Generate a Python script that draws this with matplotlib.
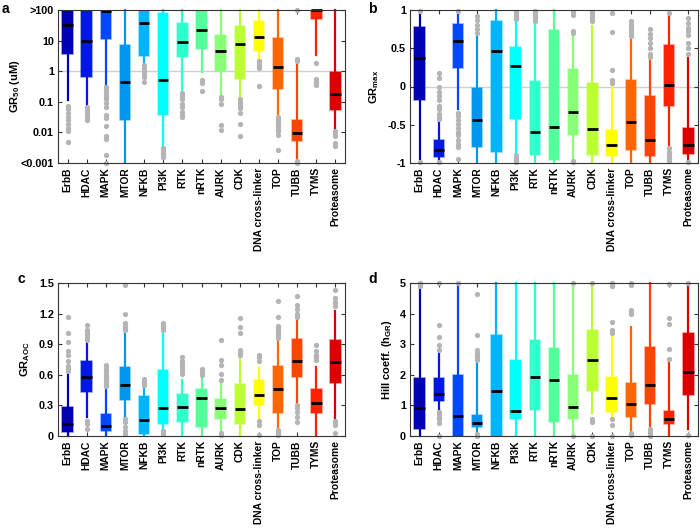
import numpy as np
import matplotlib
matplotlib.use("Agg")
import matplotlib.pyplot as plt

plt.rcParams['font.family'] = ['Liberation Sans', 'DejaVu Sans']
plt.rcParams['font.weight'] = 'bold'
plt.rcParams['mathtext.fontset'] = 'custom'
plt.rcParams['mathtext.rm'] = 'Liberation Sans:bold'
plt.rcParams['mathtext.it'] = 'Liberation Sans:bold'
plt.rcParams['mathtext.bf'] = 'Liberation Sans:bold'

categories = ['ErbB', 'HDAC', 'MAPK', 'MTOR', 'NFKB', 'PI3K', 'RTK', 'nRTK', 'AURK',
              'CDK', 'DNA cross-linker', 'TOP', 'TUBB', 'TYMS', 'Proteasome']
colors = ['#0000b4', '#0018e0', '#0048ff', '#0096f0', '#00b4ff', '#00ffff', '#33ffcc',
          '#55ff99', '#88ff77', '#bbff33', '#ffff00', '#ff6600', '#ff4400', '#ff2200', '#dd0000']

# GR50 (log scale, clipped to 0.001..100)
gr50_q1 = [3.7, 0.64, 11, 0.025, 3.2, 0.038, 3.0, 5.4, 1.05, 0.55, 4.7, 0.26, 0.0051, 51, 0.052]
gr50_med = [32, 10, 95, 0.43, 39, 0.5, 9.3, 22, 4.7, 7.8, 13.5, 1.35, 0.0095, 97, 0.18]
gr50_q3 = [100, 100, 100, 7.2, 100, 78, 39, 100, 15, 29, 45, 12, 0.025, 100, 0.97]
gr50_lo = [0.117, 0.074, 0.33, 0.001, 1.8, 0.0035, 0.23, 0.97, 0.16, 0.13, 2.3, 0.041, 0.00135, 3.4, 0.012]
gr50_hi = [100, 100, 100, 100, 100, 100, 100, 100, 100, 100, 100, 100, 1.6, 100, 100]
gr50_fliers = [
    [0.074, 0.058, 0.043, 0.033, 0.025, 0.019, 0.014, 0.011, 0.0047],
    [0.067, 0.055, 0.045, 0.038, 0.03, 0.025],
    [0.30, 0.25, 0.2, 0.16, 0.12, 0.09, 0.07, 0.038, 0.03, 0.016, 0.0078, 0.006, 0.0018, 0.001],
    [],
    [1.6, 1.25, 1.05, 0.8, 0.63, 0.46],
    [0.0031, 0.0026, 0.0022, 0.0019, 0.0016],
    [0.2, 0.17, 0.14, 0.12, 0.085, 0.067, 0.048, 0.038, 0.032],
    [0.52, 0.4, 0.23],
    [0.14, 0.12, 0.085, 0.017, 0.012],
    [0.12, 0.1, 0.085, 0.074, 0.062, 0.043, 0.019, 0.0078],
    [2.1, 1.75, 1.5, 1.25, 0.33],
    [0.033, 0.027, 0.023, 0.019, 0.016, 0.013, 0.011, 0.0083, 0.0027],
    [100, 2.6, 2.2, 0.0012, 0.0011, 0.001],
    [1.9, 0.55, 0.46, 0.35],
    [0.011, 0.009, 0.0078, 0.0045, 0.0037],
]

# GRmax
grmax_q1 = [-0.17, -0.92, 0.24, -0.79, -0.86, -0.43, -0.9, -0.96, -0.64, -0.9, -0.91, -0.83, -0.91, -0.26, -0.88]
grmax_med = [0.37, -0.83, 0.6, -0.44, 0.46, 0.27, -0.59, -0.53, -0.33, -0.56, -0.77, -0.47, -0.7, 0.02, -0.77]
grmax_q3 = [0.78, -0.70, 0.82, -0.02, 0.86, 0.52, 0.07, 0.74, 0.23, 0.05, -0.57, 0.08, -0.12, 0.54, -0.54]
grmax_lo = [-0.95, -0.99, -0.3, -0.99, -0.99, -0.88, -0.99, -1.0, -0.95, -0.99, -0.99, -0.99, -0.99, -0.77, -0.97]
grmax_hi = [0.965, -0.44, 0.97, 0.66, 1.0, 0.85, 0.83, 1.0, 0.67, 0.79, -0.01, 0.64, 0.35, 0.92, 0.37]
grmax_fliers = [
    [0.99, -0.99],
    [0.18, 0.11, -0.01, -0.07, -0.13, -0.17, -0.25, -0.3, -0.36, -0.4, -0.43, -0.99],
    [0.99, -0.34, -0.39, -0.44, -0.49, -0.54, -0.59, -0.64, -0.7, -0.75, -0.79, -0.95],
    [0.92, 0.87, 0.8, 0.75, 0.7],
    [],
    [0.97, 0.93, 0.9, 0.88, -0.9, -0.93, -0.96, -0.99],
    [0.99, 0.96, 0.92, 0.89, 0.86],
    [],
    [0.97, 0.93, 0.72, 0.7, -0.97, -0.99],
    [0.98, 0.95, 0.91, 0.88, 0.85],
    [0.96, 0.71, 0.21, 0.09, 0.05],
    [0.85, 0.82, 0.78, 0.75, 0.72, 0.69, 0.66],
    [0.75, 0.69, 0.63, 0.57, 0.5, 0.43, 0.38],
    [0.96, -0.8, -0.85, -0.89, -0.92, -0.95, -0.98],
    [0.89, 0.83, 0.76, 0.72, 0.67, 0.57, 0.5, 0.43, -0.99],
]

# GRAOC
graoc_q1 = [0.04, 0.43, 0.05, 0.35, 0.02, 0.12, 0.14, 0.09, 0.165, 0.12, 0.3, 0.23, 0.58, 0.225, 0.52]
graoc_med = [0.115, 0.58, 0.1, 0.5, 0.155, 0.275, 0.285, 0.37, 0.275, 0.26, 0.4, 0.46, 0.735, 0.32, 0.725]
graoc_q3 = [0.28, 0.735, 0.22, 0.68, 0.39, 0.65, 0.415, 0.46, 0.36, 0.51, 0.545, 0.69, 0.955, 0.46, 0.94]
graoc_lo = [0.0, 0.19, 0.0, 0.19, 0.0, 0.0, 0.0, 0.0, 0.05, 0.0, 0.17, 0.09, 0.32, 0.0, 0.17]
graoc_hi = [0.61, 0.92, 0.46, 1.0, 0.48, 1.01, 0.55, 0.58, 0.52, 0.775, 0.67, 0.93, 1.14, 0.68, 1.23]
graoc_fliers = [
    [1.17, 1.01, 0.92, 0.83, 0.79, 0.74, 0.69, 0.67, 0.64],
    [1.09, 1.04, 1.02, 1.0, 0.97, 0.94, 0.15, 0.115, 0.07],
    [0.70, 0.68, 0.65, 0.63, 0.6, 0.58, 0.56, 0.54, 0.51, 0.49],
    [1.48, 1.2, 1.11, 1.08, 1.06, 1.04, 0.17, 0.14, 0.09, 0.05, 0.02],
    [0.56, 0.54, 0.52, 0.5],
    [1.11, 1.08, 1.06, 1.04, 0.05, 0.02],
    [0.77, 0.74, 0.72, 0.69, 0.67, 0.64, 0.61],
    [0.66, 0.64, 0.62, 0.6],
    [0.94, 0.75, 0.7, 0.61, 0.55, 0.03, 0.01],
    [1.16, 1.07, 1.01, 0.84, 0.81, 0.79],
    [0.79, 0.77, 0.74, 0.15, 0.11, 0.01],
    [1.32, 1.17, 1.08, 1.06, 1.04, 1.01, 0.99, 0.96, 0.06, 0.04, 0.02, 0.01],
    [1.37, 1.28, 1.25, 1.2, 1.17, 0.3, 0.27, 0.24, 0.19, 0.14],
    [0.89, 0.83, 0.79, 0.77, 0.75],
    [1.43, 1.35, 1.31, 1.3, 1.27, 0.15, 0.13, 0.11, 0.03],
]

# Hill coefficient
hill_q1 = [0.24, 1.15, 0.0, 0.3, 0.0, 0.54, 0.85, 0.47, 0.54, 1.48, 0.79, 0.61, 1.04, 0.39, 1.34]
hill_med = [0.9, 1.37, 0.65, 0.43, 1.48, 0.82, 1.93, 1.83, 0.96, 2.5, 1.25, 1.04, 1.66, 0.55, 2.08]
hill_q3 = [1.88, 1.91, 1.99, 0.68, 3.29, 2.5, 3.15, 2.89, 1.99, 3.48, 1.93, 1.72, 2.91, 0.83, 3.37]
hill_lo = [0.0, 0.85, 0.0, 0.11, 0.0, 0.0, 0.0, 0.0, 0.0, 0.74, 0.61, 0.14, 0.28, 0.0, 0.22]
hill_hi = [4.82, 2.72, 4.92, 2.39, 5.0, 5.0, 5.0, 5.0, 4.92, 4.92, 3.26, 3.57, 5.0, 2.46, 4.96]
hill_fliers = [
    [5.0, 4.96, 4.92, 4.89],
    [5.0, 3.62, 3.24, 2.97, 2.8, 0.79, 0.72, 0.63, 0.54, 0.41, 0.0],
    [5.0],
    [4.63, 3.29, 2.8, 2.72, 2.64, 2.57, 2.48, 0.07, 0.0],
    [],
    [],
    [],
    [],
    [5.0, 0.0],
    [5.0, 0.54, 0.47, 0.0],
    [5.0, 4.96, 4.89, 3.73, 3.46, 3.37, 0.54, 0.36, 0.0],
    [5.0, 4.96, 4.92, 4.13, 4.05, 4.0, 0.09, 0.03],
    [0.22, 0.14, 0.07, 0.0],
    [4.96, 3.87, 3.67, 2.84, 2.53],
    [5.0, 0.03],
]


def draw_panel(ax, q1, med, q3, lo, hi, fliers):
    stats = []
    for i in range(len(categories)):
        stats.append(dict(q1=q1[i], med=med[i], q3=q3[i], whislo=lo[i], whishi=hi[i],
                          fliers=fliers[i]))
    pos = np.arange(1, len(categories) + 1)
    bp = ax.bxp(stats, positions=pos, widths=0.55, patch_artist=True, showcaps=False,
                medianprops=dict(color='black', linewidth=2, solid_capstyle='butt'),
                whiskerprops=dict(linewidth=1.6),
                flierprops=dict(marker='o', markersize=3.8, markerfacecolor='#b4b4b4',
                                markeredgecolor='none'))
    for i, c in enumerate(colors):
        bp['boxes'][i].set_facecolor(c)
        bp['boxes'][i].set_edgecolor(matplotlib.colors.to_rgba(c, 0.45))
        bp['boxes'][i].set_linewidth(1.2)
        bp['whiskers'][2 * i].set_color(c)
        bp['whiskers'][2 * i + 1].set_color(c)
    ax.set_xlim(0.5, len(categories) + 0.5)
    ax.set_xticks(pos)
    ax.set_xticklabels(categories, rotation=90, fontweight='bold')
    ax.tick_params(direction='in', top=True, right=True, length=3, width=0.8,
                   labelsize=7.8, colors='#333333', labelcolor='black', pad=3)
    ax.tick_params(axis='x', labelsize=7.4)
    for s in ax.spines.values():
        s.set_color('#333333')
        s.set_linewidth(0.8)


fig = plt.figure(figsize=(7.0, 5.28), dpi=100)
W, H = 700.0, 528.0
ax_a = fig.add_axes([58 / W, 1 - 163 / H, 287 / W, 153 / H])
ax_b = fig.add_axes([410 / W, 1 - 163 / H, 288 / W, 153 / H])
ax_c = fig.add_axes([58 / W, 1 - 436 / H, 287 / W, 153 / H])
ax_d = fig.add_axes([410 / W, 1 - 436 / H, 288 / W, 153 / H])

# a
ax_a.set_yscale('log')
ax_a.axhline(1, color='#d0d0d0', linewidth=1, zorder=0)
draw_panel(ax_a, gr50_q1, gr50_med, gr50_q3, gr50_lo, gr50_hi, gr50_fliers)
ax_a.set_ylim(0.001, 100)
ax_a.set_yticks([0.001, 0.01, 0.1, 1, 10, 100])
ax_a.set_yticklabels(['<0.001', '0.01', '0.1', '1', '10', '>100'])
ax_a.yaxis.set_minor_locator(matplotlib.ticker.NullLocator())
ax_a.set_ylabel('GR$_{50}$ (uM)', fontsize=8, fontweight='bold')
ax_a.yaxis.set_label_coords(-0.125, 0.5)

# b
ax_b.axhline(0, color='#d0d0d0', linewidth=1, zorder=0)
draw_panel(ax_b, grmax_q1, grmax_med, grmax_q3, grmax_lo, grmax_hi, grmax_fliers)
ax_b.set_ylim(-1, 1)
ax_b.set_yticks([-1, -0.5, 0, 0.5, 1])
ax_b.set_yticklabels(['-1', '-0.5', '0', '0.5', '1'])
ax_b.set_ylabel('GR$_{\\mathrm{max}}$', fontsize=8, fontweight='bold')
ax_b.yaxis.set_label_coords(-0.1, 0.5)

# c
draw_panel(ax_c, graoc_q1, graoc_med, graoc_q3, graoc_lo, graoc_hi, graoc_fliers)
ax_c.set_ylim(0, 1.5)
ax_c.set_yticks([0, 0.3, 0.6, 0.9, 1.2, 1.5])
ax_c.set_yticklabels(['0', '0.3', '0.6', '0.9', '1.2', '1.5'])
ax_c.set_ylabel('GR$_{\\mathrm{AOC}}$', fontsize=8, fontweight='bold')
ax_c.yaxis.set_label_coords(-0.092, 0.5)

# d
draw_panel(ax_d, hill_q1, hill_med, hill_q3, hill_lo, hill_hi, hill_fliers)
ax_d.set_ylim(0, 5)
ax_d.set_yticks([0, 1, 2, 3, 4, 5])
ax_d.set_ylabel('Hill coeff. (h$_{\\mathrm{GR}}$)', fontsize=8, fontweight='bold')
ax_d.yaxis.set_label_coords(-0.055, 0.5)

for ax in (ax_a, ax_b, ax_c, ax_d):
    for line in ax.lines:
        line.set_clip_on(False)

fig.text(2 / W, 1 - 2 / H, 'a', fontsize=10, fontweight='bold', va='top', ha='left')
fig.text(368 / W, 1 - 2 / H, 'b', fontsize=10, fontweight='bold', va='top', ha='left')
fig.text(18 / W, 1 - 272 / H, 'c', fontsize=10, fontweight='bold', va='top', ha='left')
fig.text(368 / W, 1 - 272 / H, 'd', fontsize=10, fontweight='bold', va='top', ha='left')

fig.savefig('out.png', dpi=100)
